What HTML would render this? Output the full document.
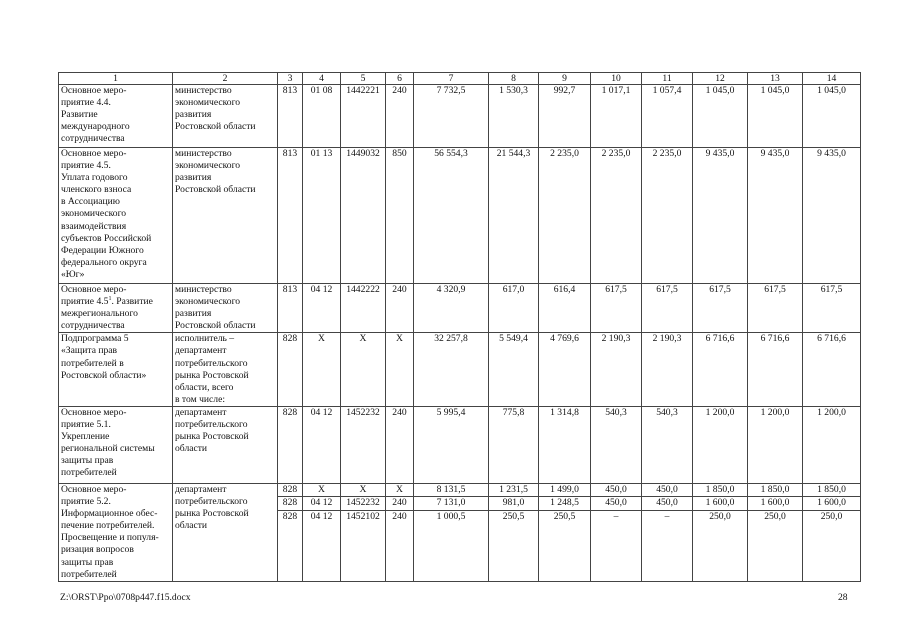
<!DOCTYPE html>
<html><head><meta charset="utf-8">
<style>
html,body{margin:0;padding:0;background:#fff;}
body{width:905px;height:640px;position:relative;overflow:hidden;font-family:"Liberation Serif",serif;font-size:9.6px;color:#111;}
table{position:absolute;left:58px;top:72px;border-collapse:collapse;table-layout:fixed;}
td{border:1px solid #444;padding:0 2px;vertical-align:top;line-height:12.1px;overflow:hidden;white-space:nowrap;}
td.c{text-align:center;}
tr.h td{text-align:center;height:11px;line-height:11px;}
.sub td{height:11px;}
.f{position:absolute;top:592px;font-size:9.6px;}
</style></head><body>
<table>
<colgroup>
<col style="width:114px"><col style="width:105px"><col style="width:25px"><col style="width:38px"><col style="width:45px"><col style="width:28px"><col style="width:75px"><col style="width:50px"><col style="width:52px"><col style="width:51px"><col style="width:51px"><col style="width:55px"><col style="width:55px"><col style="width:58px">
</colgroup>
<tr class="h"><td>1</td><td>2</td><td>3</td><td>4</td><td>5</td><td>6</td><td>7</td><td>8</td><td>9</td><td>10</td><td>11</td><td>12</td><td>13</td><td>14</td></tr>
<tr style="height:63px"><td>Основное меро-<br>приятие 4.4.<br>Развитие<br>международного<br>сотрудничества</td><td>министерство<br>экономического<br>развития<br>Ростовской области</td><td class="c">813</td><td class="c">01 08</td><td class="c">1442221</td><td class="c">240</td><td class="c">7 732,5</td><td class="c">1 530,3</td><td class="c">992,7</td><td class="c">1 017,1</td><td class="c">1 057,4</td><td class="c">1 045,0</td><td class="c">1 045,0</td><td class="c">1 045,0</td></tr>
<tr style="height:136px"><td>Основное меро-<br>приятие 4.5.<br>Уплата годового<br>членского взноса<br>в Ассоциацию<br>экономического<br>взаимодействия<br>субъектов Российской<br>Федерации Южного<br>федерального округа<br>«Юг»</td><td>министерство<br>экономического<br>развития<br>Ростовской области</td><td class="c">813</td><td class="c">01 13</td><td class="c">1449032</td><td class="c">850</td><td class="c">56 554,3</td><td class="c">21 544,3</td><td class="c">2 235,0</td><td class="c">2 235,0</td><td class="c">2 235,0</td><td class="c">9 435,0</td><td class="c">9 435,0</td><td class="c">9 435,0</td></tr>
<tr style="height:49px"><td>Основное меро-<br>приятие 4.5<sup style="font-size:6px;line-height:0">1</sup>. Развитие<br>межрегионального<br>сотрудничества</td><td>министерство<br>экономического<br>развития<br>Ростовской области</td><td class="c">813</td><td class="c">04 12</td><td class="c">1442222</td><td class="c">240</td><td class="c">4 320,9</td><td class="c">617,0</td><td class="c">616,4</td><td class="c">617,5</td><td class="c">617,5</td><td class="c">617,5</td><td class="c">617,5</td><td class="c">617,5</td></tr>
<tr style="height:72px"><td>Подпрограмма 5<br>«Защита прав<br>потребителей в<br>Ростовской области»</td><td>исполнитель –<br>департамент<br>потребительского<br>рынка Ростовской<br>области, всего<br>в том числе:</td><td class="c">828</td><td class="c">X</td><td class="c">X</td><td class="c">X</td><td class="c">32 257,8</td><td class="c">5 549,4</td><td class="c">4 769,6</td><td class="c">2 190,3</td><td class="c">2 190,3</td><td class="c">6 716,6</td><td class="c">6 716,6</td><td class="c">6 716,6</td></tr>
<tr style="height:77px"><td>Основное меро-<br>приятие 5.1.<br>Укрепление<br>региональной системы<br>защиты прав<br>потребителей</td><td>департамент<br>потребительского<br>рынка Ростовской<br>области</td><td class="c">828</td><td class="c">04 12</td><td class="c">1452232</td><td class="c">240</td><td class="c">5 995,4</td><td class="c">775,8</td><td class="c">1 314,8</td><td class="c">540,3</td><td class="c">540,3</td><td class="c">1 200,0</td><td class="c">1 200,0</td><td class="c">1 200,0</td></tr>
<tr class="sub"><td rowspan="3">Основное меро-<br>приятие 5.2.<br>Информационное обес-<br>печение потребителей.<br>Просвещение и популя-<br>ризация вопросов<br>защиты прав<br>потребителей</td><td rowspan="3">департамент<br>потребительского<br>рынка Ростовской<br>области</td><td class="c">828</td><td class="c">X</td><td class="c">X</td><td class="c">X</td><td class="c">8 131,5</td><td class="c">1 231,5</td><td class="c">1 499,0</td><td class="c">450,0</td><td class="c">450,0</td><td class="c">1 850,0</td><td class="c">1 850,0</td><td class="c">1 850,0</td></tr>
<tr class="sub"><td class="c">828</td><td class="c">04 12</td><td class="c">1452232</td><td class="c">240</td><td class="c">7 131,0</td><td class="c">981,0</td><td class="c">1 248,5</td><td class="c">450,0</td><td class="c">450,0</td><td class="c">1 600,0</td><td class="c">1 600,0</td><td class="c">1 600,0</td></tr>
<tr style="height:70px"><td class="c">828</td><td class="c">04 12</td><td class="c">1452102</td><td class="c">240</td><td class="c">1 000,5</td><td class="c">250,5</td><td class="c">250,5</td><td class="c">–</td><td class="c">–</td><td class="c">250,0</td><td class="c">250,0</td><td class="c">250,0</td></tr>
</table>
<div class="f" style="left:60px">Z:\ORST\Ppo\0708p447.f15.docx</div>
<div class="f" style="left:838px">28</div>
</body></html>
